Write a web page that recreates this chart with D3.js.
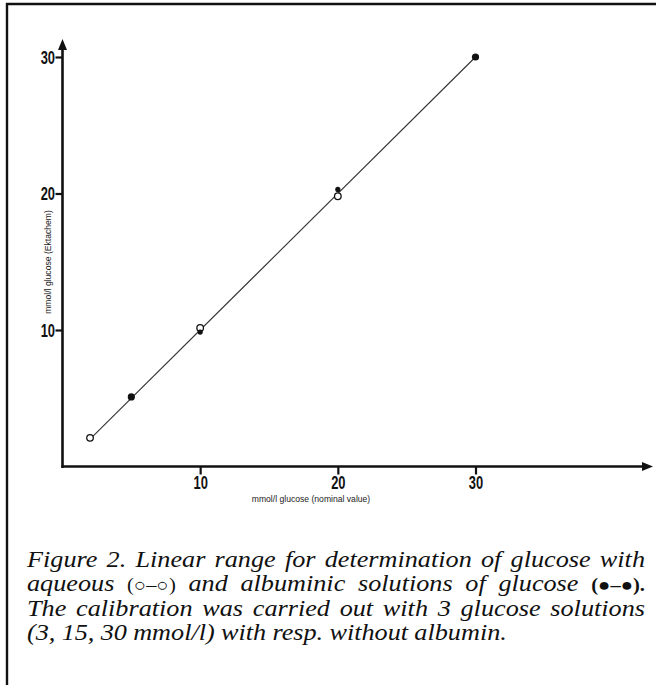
<!DOCTYPE html>
<html><head><meta charset="utf-8">
<script src="https://cdn.jsdelivr.net/npm/d3@7"></script>
<style>body{margin:0;background:#fff}svg{display:block}</style>
</head><body>
<script>
// ---- data ----
const xTicks = [10, 20, 30];
const yTicks = [10, 20, 30];
const aqueousX = [2, 10, 20];
const aqueousY = [2.1, 10.15, 19.8];
const albuminX = [5, 10, 20, 30];
const albuminY = [5.1, 9.85, 20.3, 30];
const albuminR = [3.6, 2.6, 2.6, 3.6];
const lineX = [2, 30];
const lineY = [2, 30];
const xLabel = "mmol/l glucose (nominal value)";
const yLabel = "mmol/l glucose (Ektachem)";
const captionLines = [
  [{t:"Figure 2. Linear range for determination of glucose with"}],
  [{t:"aqueous "},{t:"(○–○)",s:"sym"},{t:"  and albuminic solutions of glucose "},{t:"(●–●).",s:"symb"}],
  [{t:"The calibration was carried out with 3 glucose solutions"}],
  [{t:"(3, 15, 30 mmol/l) with resp. without albumin."}]
];

const W = 656, H = 685;
const svg = d3.select("body").append("svg").attr("width", W).attr("height", H);

// frame (left + top only)
svg.append("path").attr("d", `M7,685 V4 H656`).attr("fill","none").attr("stroke","#111").attr("stroke-width",2.4);

const x = d3.scaleLinear().domain([0, 30]).range([62.5, 475.5]);
const y = d3.scaleLinear().domain([0, 30]).range([466.5, 57]);

const tickFont = "'Liberation Sans','DejaVu Sans',Arial,sans-serif";
const sx = 0.68;

// axes lines
const ax = svg.append("g").attr("stroke","#111").attr("stroke-width",2.6).attr("fill","none");
ax.append("line").attr("x1", x(0)).attr("x2", x(0)).attr("y1", y(0)+1.5).attr("y2", 48);
ax.append("line").attr("x1", x(0)-1).attr("x2", 644).attr("y1", y(0)).attr("y2", y(0));
svg.append("path").attr("d", `M${x(0)},39 L${x(0)-4.5},50 L${x(0)+4.5},50 Z`).attr("fill","#111");
svg.append("path").attr("d", `M653,${y(0)} L642,${y(0)-4.5} L642,${y(0)+4.5} Z`).attr("fill","#111");

// y axis ticks
const yAxis = svg.append("g").attr("transform", `translate(${x(0)},0)`)
  .call(d3.axisLeft(y).tickValues(yTicks).tickSize(7).tickPadding(1).tickFormat(d3.format("d")));
yAxis.select(".domain").remove();
yAxis.selectAll(".tick line").attr("stroke","#111").attr("stroke-width",2.2);
yAxis.selectAll(".tick text").attr("font-family", tickFont).attr("font-weight","bold").attr("font-size",19)
  .attr("fill","#111").attr("x", -7.5/sx).attr("transform", `scale(${sx},1)`);

// x axis ticks
const xAxis = svg.append("g").attr("transform", `translate(0,${y(0)})`)
  .call(d3.axisBottom(x).tickValues(xTicks).tickSize(8).tickPadding(1).tickFormat(d3.format("d")));
xAxis.select(".domain").remove();
xAxis.selectAll(".tick line").attr("stroke","#111").attr("stroke-width",2.2);
xAxis.selectAll(".tick text").attr("font-family", tickFont).attr("font-weight","bold").attr("font-size",19)
  .attr("fill","#111").attr("y", 9.5).attr("transform", `scale(${sx},1)`);

// axis labels
svg.append("text").attr("x", 311).attr("y", 502).attr("text-anchor","middle")
  .attr("font-family","'Liberation Sans',Arial,sans-serif").attr("font-size",8.6).attr("fill","#222").text(xLabel);
svg.append("text").attr("transform", `translate(51,262) rotate(-90)`).attr("text-anchor","middle")
  .attr("font-family","'Liberation Sans',Arial,sans-serif").attr("font-size",8.6).attr("fill","#222").text(yLabel);

// regression line
const lineData = lineX.map((d,i)=>[d, lineY[i]]);
svg.append("path").datum(lineData)
  .attr("d", d3.line().x(d=>x(d[0])).y(d=>y(d[1])))
  .attr("stroke","#333").attr("stroke-width",1.1).attr("fill","none");

// aqueous points (open)
svg.selectAll("circle.aq").data(aqueousX.map((d,i)=>[d, aqueousY[i]])).enter().append("circle")
  .attr("class","aq").attr("cx", d=>x(d[0])).attr("cy", d=>y(d[1])).attr("r",3.3)
  .attr("fill","#fff").attr("stroke","#111").attr("stroke-width",1.3);

// albuminic points (filled)
svg.selectAll("circle.al").data(albuminX.map((d,i)=>[d, albuminY[i], albuminR[i]])).enter().append("circle")
  .attr("class","al").attr("cx", d=>x(d[0])).attr("cy", d=>y(d[1])).attr("r", d=>d[2])
  .attr("fill","#111");

// caption (justified), horizontally stretched serif italic
const cs = 1.14;
const capX0 = 27, capX1 = 645, baseY0 = 567, lh = 24.5;
const capFont = "'Liberation Serif','Times New Roman',serif";
captionLines.forEach((segs, li) => {
  const justify = li < 3;
  const tokens = [];
  segs.forEach(sg => {
    sg.t.split(/ +/).filter(w=>w.length).forEach(w => tokens.push({w, s: sg.s}));
  });
  const g = svg.append("g").attr("transform", `scale(${cs},1)`);
  const els = tokens.map(tk => {
    const t = g.append("text").attr("y", baseY0 + li*lh)
      .attr("font-family", capFont).attr("font-size", 23).attr("fill","#111")
      .attr("font-style", tk.s ? "normal" : "italic")
      .text(tk.w);
    if (tk.s === "sym") t.attr("font-size", 18).attr("font-weight","normal");
    if (tk.s === "symb") t.attr("font-size", 18).attr("font-weight","bold");
    return t;
  });
  const widths = els.map(e => e.node().getComputedTextLength());
  const total = d3.sum(widths);
  const x0 = capX0 / cs, x1 = capX1 / cs;
  const gap = justify ? (x1 - x0 - total) / (els.length - 1) : 5.5;
  let cx = x0;
  els.forEach((e,i) => { e.attr("x", cx); cx += widths[i] + gap; });
});
</script>
</body></html>
